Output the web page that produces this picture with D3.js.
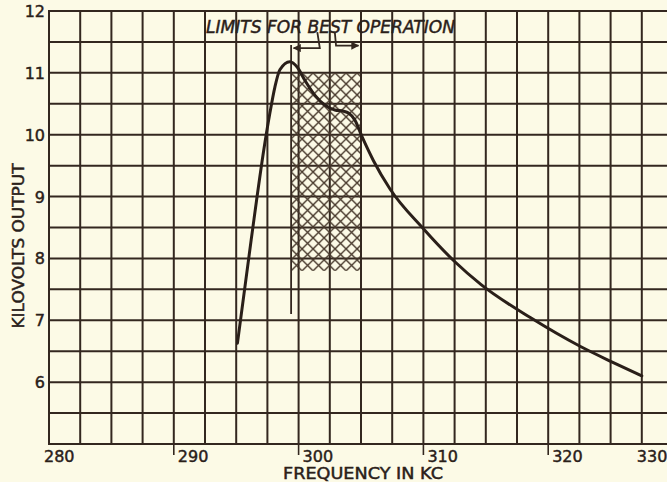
<!DOCTYPE html>
<html>
<head>
<meta charset="utf-8">
<script src="https://cdn.jsdelivr.net/npm/d3@7"></script>
<style>
  html, body { margin: 0; padding: 0; background: #fcfae6; }
  svg { display: block; }
  text { font-family: "DejaVu Sans", "Liberation Sans", sans-serif; fill: #2a2019; stroke: #2a2019; stroke-width: 0.45px; }
</style>
</head>
<body>
<svg id="chart" width="667" height="482"></svg>
<script>
// Output voltage against frequency
const freqKc   = [295.1, 296.2, 297.3, 297.7, 298.1, 298.5, 299.3, 299.9, 300.5, 301.3, 302.1, 302.9,
                  303.6, 304.0, 304.5, 305.1, 306.0, 307.3, 310.0, 312.5, 314.6, 318.6, 323.4, 326.9, 330.0];
const kiloVolts = [6.63, 8.30, 9.87, 10.35, 10.77, 11.05, 11.18, 11.09, 10.88, 10.64, 10.48, 10.40,
                  10.38, 10.35, 10.24, 9.96, 9.58, 9.13, 8.48, 7.95, 7.58, 7.04, 6.58, 6.32, 6.10];

// Axis labelling
const xTickLabels = [280, 290, 300, 310, 320, 330];
const yTickLabels = [6, 7, 8, 9, 10, 11, 12];

// Band of best operation (kc) and its hatched extent (kV)
const bestBandKc = [299.4, 305.0];
const bestBandKv = [7.8, 11.0];
const bandLineBottomKv = 7.1;
const bandLeftTopKv = 11.45;

// Pointer arrows below the caption: [kc, kV] vertices
const leftPointer  = [[301.5, 11.66], [301.7, 11.40], [299.6, 11.40]];
const rightPointer = [[302.9, 11.66], [303.0, 11.44], [304.8, 11.44]];

const svg = d3.select("#chart");
const W = 667;
const plotLeft = 49, plotTop = 11, plotBottom = 444;
const cell = 31.2;       // printed grid square
const ink = "#33271f";

// The printed scale: 2.5 kc per square up to 320, three squares from 320 to 330
const x = d3.scaleLinear()
  .domain([280, 320, 330])
  .range([plotLeft, plotLeft + 16 * cell, plotLeft + 19 * cell]);
const y = d3.scaleLinear().domain([5, 12]).range([plotBottom, plotTop]);

// Hatch pattern for the band
const defs = svg.append("defs");
const pat = defs.append("pattern")
  .attr("id", "xhatch")
  .attr("patternUnits", "userSpaceOnUse")
  .attr("x", x(bestBandKc[0])).attr("y", y(bestBandKv[1]))
  .attr("width", 11).attr("height", 11);
pat.append("path")
  .attr("d", "M0,0L11,11M11,0L0,11M-1,10L1,12M10,-1L12,1")
  .attr("stroke", "#47382b").attr("stroke-width", 1.4).attr("fill", "none");

// Grid: vertical rules
const gridCols = d3.range(0, 20).map(i => plotLeft + i * cell);
svg.append("g").selectAll("line").data(gridCols).join("line")
  .attr("x1", d => d).attr("x2", d => d)
  .attr("y1", plotTop).attr("y2", plotBottom)
  .attr("stroke", ink).attr("stroke-width", 2);

// Grid: horizontal rules every half kilovolt
const gridRows = d3.range(5, 12.01, 0.5);
svg.append("g").selectAll("line").data(gridRows).join("line")
  .attr("x1", plotLeft - 1).attr("x2", W)
  .attr("y1", d => y(d)).attr("y2", d => y(d))
  .attr("stroke", ink).attr("stroke-width", 2);

// Hatched band
svg.append("rect")
  .attr("x", x(bestBandKc[0])).attr("y", y(bestBandKv[1]))
  .attr("width", x(bestBandKc[1]) - x(bestBandKc[0]))
  .attr("height", y(bestBandKv[0]) - y(bestBandKv[1]))
  .attr("fill", "url(#xhatch)");

// Band limit lines
svg.append("line")
  .attr("x1", x(bestBandKc[0])).attr("x2", x(bestBandKc[0]))
  .attr("y1", y(bandLeftTopKv)).attr("y2", y(bandLineBottomKv))
  .attr("stroke", ink).attr("stroke-width", 1.8);
svg.append("line")
  .attr("x1", x(bestBandKc[1])).attr("x2", x(bestBandKc[1]))
  .attr("y1", y(12)).attr("y2", y(bandLineBottomKv))
  .attr("stroke", ink).attr("stroke-width", 2);

// Extended tick marks below the axis
svg.append("g").selectAll("line").data(xTickLabels.filter(d => d > 280 && d < 330)).join("line")
  .attr("x1", d => x(d)).attr("x2", d => x(d))
  .attr("y1", plotBottom).attr("y2", plotBottom + 11)
  .attr("stroke", ink).attr("stroke-width", 1.6);

// Tick labels
svg.append("g").selectAll("text").data(xTickLabels).join("text")
  .attr("x", d => x(d) + (d === 280 || d === 330 ? -5 : 4))
  .attr("y", 462)
  .attr("font-size", 16)
  .text(d => d);

svg.append("g").selectAll("text").data(yTickLabels).join("text")
  .attr("x", 45)
  .attr("y", d => y(d) + 6)
  .attr("text-anchor", "end")
  .attr("font-size", 16)
  .text(d => d);

// Axis titles
svg.append("text")
  .attr("x", 363).attr("y", 479)
  .attr("text-anchor", "middle")
  .attr("font-size", 15)
  .attr("textLength", 160).attr("lengthAdjust", "spacingAndGlyphs")
  .text("FREQUENCY IN KC");

svg.append("text")
  .attr("transform", "translate(24,246) rotate(-90)")
  .attr("text-anchor", "middle")
  .attr("font-size", 15)
  .attr("textLength", 165).attr("lengthAdjust", "spacingAndGlyphs")
  .text("KILOVOLTS OUTPUT");

// Caption over the band
svg.append("text")
  .attr("x", 206).attr("y", 33)
  .attr("font-size", 17)
  .attr("font-style", "italic")
  .attr("textLength", 249).attr("lengthAdjust", "spacingAndGlyphs")
  .text("LIMITS FOR BEST OPERATION");

// Pointer arrows
defs.append("marker")
  .attr("id", "head").attr("viewBox", "0 0 10 10")
  .attr("refX", 9).attr("refY", 5)
  .attr("markerWidth", 8).attr("markerHeight", 8)
  .attr("markerUnits", "userSpaceOnUse")
  .attr("orient", "auto")
  .append("path").attr("d", "M0,0L10,5L0,10Z").attr("fill", ink);

const pointerLine = d3.line().x(d => x(d[0])).y(d => y(d[1]));
[leftPointer, rightPointer].forEach(p => {
  svg.append("path")
    .attr("d", pointerLine(p))
    .attr("fill", "none").attr("stroke", ink).attr("stroke-width", 1.8)
    .attr("marker-end", "url(#head)");
});

// Response curve
const curve = d3.line()
  .x(d => x(d[0])).y(d => y(d[1]))
  .curve(d3.curveMonotoneX);
svg.append("path")
  .attr("d", curve(d3.zip(freqKc, kiloVolts)))
  .attr("fill", "none")
  .attr("stroke", "#2a1f19")
  .attr("stroke-width", 3)
  .attr("stroke-linecap", "round")
  .attr("stroke-linejoin", "round");
</script>
</body>
</html>
